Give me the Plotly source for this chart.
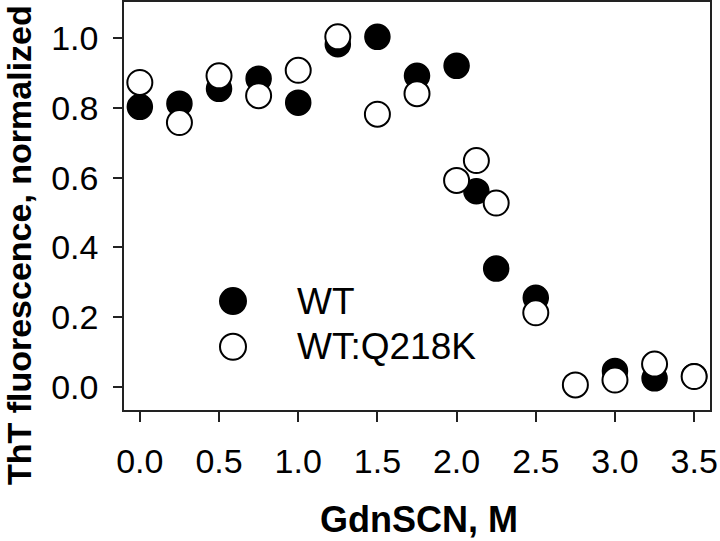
import plotly.graph_objects as go

# GdnSCN concentration (M)
x_wt = [0.0, 0.25, 0.5, 0.75, 1.0, 1.25, 1.5, 1.75, 2.0, 2.125, 2.25, 2.5, 3.0, 3.25, 3.5]
y_wt = [0.803, 0.812, 0.855, 0.884, 0.815, 0.983, 1.004, 0.892, 0.921, 0.561, 0.339, 0.255, 0.045, 0.024, 0.030]

x_mut = [0.0, 0.25, 0.5, 0.75, 1.0, 1.25, 1.5, 1.75, 2.0, 2.125, 2.25, 2.5, 2.75, 3.0, 3.25, 3.5]
y_mut = [0.873, 0.758, 0.892, 0.835, 0.908, 1.004, 0.782, 0.841, 0.592, 0.649, 0.527, 0.212, 0.005, 0.019, 0.065, 0.029]

x_ticks = [0.0, 0.5, 1.0, 1.5, 2.0, 2.5, 3.0, 3.5]
x_ticklabels = ["0.0", "0.5", "1.0", "1.5", "2.0", "2.5", "3.0", "3.5"]
y_ticks = [0.0, 0.2, 0.4, 0.6, 0.8, 1.0]
y_ticklabels = ["0.0", "0.2", "0.4", "0.6", "0.8", "1.0"]

series_names = ["WT", "WT:Q218K"]
x_title = "GdnSCN, M"
y_title = "ThT fluorescence, normalized"

FONT = "Liberation Sans, Arial, sans-serif"
MS = 25

fig = go.Figure()
fig.add_trace(go.Scatter(
    x=x_wt, y=y_wt, mode="markers", name=series_names[0], showlegend=False,
    marker=dict(symbol="circle", size=MS, color="black", line=dict(color="black", width=1.5)),
))
fig.add_trace(go.Scatter(
    x=x_mut, y=y_mut, mode="markers", name=series_names[1], showlegend=False,
    marker=dict(symbol="circle", size=MS, color="white", line=dict(color="black", width=2)),
))

# Legend drawn as shapes + text (to keep large symbols)
leg_x = 0.186
leg_y = [0.267, 0.155]
styles = [("black", "black"), ("white", "black")]
for name, ly, (fc, lc) in zip(series_names, leg_y, styles):
    fig.add_shape(type="circle", xref="paper", yref="paper",
                  xsizemode="pixel", ysizemode="pixel",
                  xanchor=leg_x, yanchor=ly, x0=-13, x1=13, y0=-13, y1=13,
                  fillcolor=fc, line=dict(color=lc, width=2), layer="above")
    fig.add_annotation(xref="paper", yref="paper", x=0.292, y=ly,
                       text=name, showarrow=False, xanchor="left", yanchor="middle",
                       font=dict(family=FONT, size=37, color="black"))

# Axis titles
fig.add_annotation(xref="paper", yref="paper", x=0.503, y=-0.269,
                   text="<b>" + x_title + "</b>", showarrow=False,
                   xanchor="center", yanchor="middle",
                   font=dict(family=FONT, size=36, color="black"))
fig.add_annotation(xref="paper", yref="paper", x=-0.180, y=0.403,
                   text="<b>" + y_title + "</b>", showarrow=False, textangle=-90,
                   xanchor="center", yanchor="middle",
                   font=dict(family=FONT, size=34, color="black"))

fig.update_layout(
    width=720, height=541,
    margin=dict(l=124, r=10, t=2, b=131),
    paper_bgcolor="white", plot_bgcolor="white",
    showlegend=False,
    font=dict(family=FONT, color="black"),
)
fig.update_xaxes(
    range=[-0.1, 3.6], tickvals=x_ticks, ticktext=x_ticklabels,
    showgrid=False, zeroline=False, automargin=False,
    showline=True, mirror=True, linecolor="#222", linewidth=1.5,
    ticks="outside", ticklen=10, tickwidth=1.5, tickcolor="#222",
    ticklabelstandoff=10,
    tickfont=dict(family=FONT, size=34, color="black"),
)
fig.update_yaxes(
    range=[-0.067, 1.104], tickvals=y_ticks, ticktext=y_ticklabels,
    showgrid=False, zeroline=False, automargin=False,
    showline=True, mirror=True, linecolor="#222", linewidth=1.5,
    ticks="outside", ticklen=9, tickwidth=1.5, tickcolor="#222",
    ticklabelstandoff=8,
    tickfont=dict(family=FONT, size=34, color="black"),
)

fig.write_html(
    "out.html",
    config={"displayModeBar": False},
    post_script="document.body.style.margin='0px';document.body.style.overflow='hidden';",
)
